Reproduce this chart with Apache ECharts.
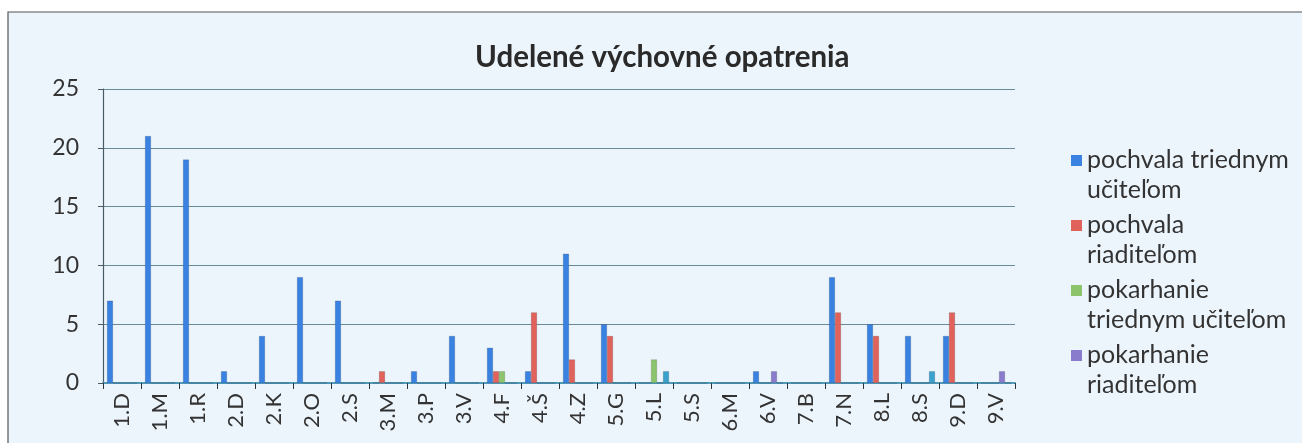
<!DOCTYPE html>
<html>
<head>
<meta charset="utf-8">
<script src="https://cdn.jsdelivr.net/npm/echarts@6/dist/echarts.min.js"></script>
<style>
  html, body { margin: 0; padding: 0; background: #fff; }
  #container { width: 1302px; height: 443px; }
</style>
</head>
<body>
<div id="container"></div>
<script>
;(function() {

  var classes = ['1.D', '1.M', '1.R', '2.D', '2.K', '2.O', '2.S', '3.M', '3.P', '3.V', '4.F', '4.Š',
    '4.Z', '5.G', '5.L', '5.S', '6.M', '6.V', '7.B', '7.N', '8.L', '8.S', '9.D', '9.V']

  var pochvalaTU = [7, 21, 19, 1, 4, 9, 7, 0, 1, 4, 3, 1, 11, 5, 0, 0, 0, 1, 0, 9, 5, 4, 4, 0]
  var pochvalaRI = [0, 0, 0, 0, 0, 0, 0, 1, 0, 0, 1, 6, 2, 4, 0, 0, 0, 0, 0, 6, 4, 0, 6, 0]
  var pokarhanieTU = [0, 0, 0, 0, 0, 0, 0, 0, 0, 0, 1, 0, 0, 0, 2, 0, 0, 0, 0, 0, 0, 0, 0, 0]
  var pokarhanieRI = [0, 0, 0, 0, 0, 0, 0, 0, 0, 0, 0, 0, 0, 0, 0, 0, 0, 1, 0, 0, 0, 0, 0, 1]
  // piata seria nema polozku v legende
  var piataSeria = [0, 0, 0, 0, 0, 0, 0, 0, 0, 0, 0, 0, 0, 0, 1, 0, 0, 0, 0, 0, 0, 1, 0, 0]

  var yTicks = [0, 5, 10, 15, 20, 25]

  var wrapped = {
    'pochvala triednym učiteľom': 'pochvala triednym\nučiteľom',
    'pochvala riaditeľom': 'pochvala\nriaditeľom',
    'pokarhanie triednym učiteľom': 'pokarhanie\ntriednym učiteľom',
    'pokarhanie riaditeľom': 'pokarhanie\nriaditeľom'
  }

  var font = 'Lato, "Open Sans", sans-serif'
  // stvorcek hore, aby sedel s prvym riadkom textu
  var topSquare = 'path://M0,0L11,0L11,11L0,11ZM0,40L0.05,40L0.05,40.05Z'

  function bar(name, data, color) {
    return {
      name: name,
      type: 'bar',
      data: data,
      barWidth: 6,
      barGap: '0%',
      itemStyle: { color: color, borderColor: 'rgba(40,40,60,0.35)', borderWidth: 0.5 }
    }
  }

  var dom = document.getElementById('container')
  var myChart = echarts.init(dom)

  var option = {
    backgroundColor: '#ffffff',
    animation: false,
    graphic: [{
      type: 'rect',
      z: -10,
      shape: { x: 8, y: 12, width: 1300, height: 440 },
      style: { fill: '#edf5fc', stroke: '#555', lineWidth: 1.2 }
    }],
    title: {
      text: 'Udelené výchovné opatrenia',
      left: 470,
      top: 37,
      textStyle: { fontFamily: font, fontSize: 29.5, fontWeight: 'bold', color: '#2a2a2a' }
    },
    legend: {
      orient: 'vertical',
      left: 1066,
      top: 140,
      itemWidth: 11,
      itemHeight: 40,
      itemGap: 5,
      icon: topSquare,
      itemStyle: { borderWidth: 0 },
      data: ['pochvala triednym učiteľom', 'pochvala riaditeľom',
        'pokarhanie triednym učiteľom', 'pokarhanie riaditeľom'],
      formatter: function(name) { return wrapped[name] || name },
      textStyle: {
        fontFamily: font, fontSize: 25, color: '#333', lineHeight: 30
      }
    },
    grid: { left: 103, right: 287, top: 89, bottom: 60 },
    xAxis: {
      type: 'category',
      data: classes,
      axisLine: { lineStyle: { color: '#4f9ab8', width: 2 } },
      axisTick: { show: true, length: 6, lineStyle: { color: '#333' } },
      axisLabel: {
        rotate: 90, fontFamily: font, fontSize: 22, color: '#333', margin: 10
      }
    },
    yAxis: {
      type: 'value',
      min: yTicks[0],
      max: yTicks[yTicks.length - 1],
      interval: 5,
      axisLine: { show: true, lineStyle: { color: '#4a5a66', width: 1.2 } },
      axisTick: { show: true, length: 5, lineStyle: { color: '#4a5a66' } },
      axisLabel: { fontFamily: font, fontSize: 23, color: '#333', margin: 24 },
      splitLine: { lineStyle: { color: '#6a8c98', width: 1.2 } }
    },
    series: [
      bar('pochvala triednym učiteľom', pochvalaTU, '#3a82e2'),
      bar('pochvala riaditeľom', pochvalaRI, '#e0625a'),
      bar('pokarhanie triednym učiteľom', pokarhanieTU, '#8cc46c'),
      bar('pokarhanie riaditeľom', pokarhanieRI, '#8a7ccc'),
      bar('séria 5', piataSeria, '#3aa0cc')
    ]
  }

  myChart.setOption(option, true)
})()
</script>
</body>
</html>
